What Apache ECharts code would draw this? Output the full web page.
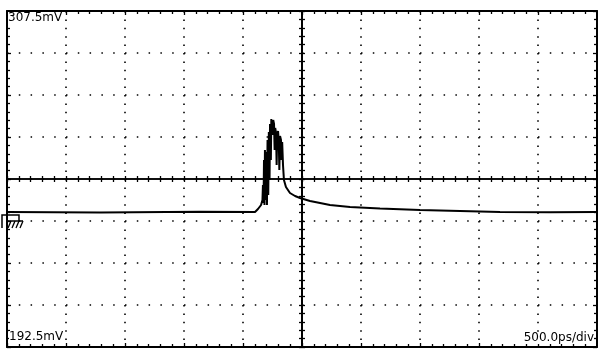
<!DOCTYPE html>
<html><head><meta charset="utf-8">
<script src="https://cdn.jsdelivr.net/npm/echarts@6/dist/echarts.min.js"></script>
<style>html,body{margin:0;padding:0;background:#fff}#c{width:598px;height:349px}</style>
</head><body><div id="c"></div>
<script>
// Waveform samples: time relative to screen centre (ps), voltage (mV)
const timePs = [-2500,-1712,-864,-398,-373,-347,-335,-331,-326,-322,-318,-314,-308,-303,-297,-292,-286,-281,-275,-271,-264,-260,-254,-249,-244,-237,-232,-227,-220,-215,-210,-203,-197,-192,-186,-178,-173,-168,-161,-153,-136,-119,-102,-59,-17,68,153,237,407,661,1000,1339,1678,2102,2500];
const voltMv = [238.71,238.53,238.77,238.71,239.73,241.10,242.81,247.95,241.79,256.50,241.10,259.93,242.81,259.24,241.10,263.35,244.52,266.09,249.66,268.82,256.50,270.54,271.22,265.06,270.19,268.82,259.93,267.46,265.74,254.79,265.40,266.43,263.35,253.08,264.72,263.35,256.50,262.66,254.79,249.66,247.26,246.24,245.21,244.18,243.50,242.47,241.79,241.10,240.42,239.90,239.39,239.05,238.71,238.60,238.71];
// Screen scale
const topLabel = '307.5mV';
const bottomLabel = '192.5mV';
const scaleLabel = '500.0ps/div';
const centerMv = 250;
const mvPerDiv = 14.375;
const psPerDiv = 500;
const divsX = 10, divsY = 8;

const chart = echarts.init(document.getElementById('c'));
const xMin = -psPerDiv*divsX/2, xMax = psPerDiv*divsX/2;
const yMin = -mvPerDiv*divsY/2, yMax = mvPerDiv*divsY/2;
const black = '#000';

function xAx(pos, onZero, split) {
  return {
    type:'value', position:pos, min:xMin, max:xMax, interval:psPerDiv,
    axisLine:{show:true, onZero:onZero, onZeroAxisIndex:0, lineStyle:{color:black, width:onZero?1.5:2}},
    axisTick:{show:true, inside:true, length:onZero?3:4, lineStyle:{color:black, width:1.3}},
    minorTick:{show:true, splitNumber:5, length:3, lineStyle:{color:black, width:1.3}},
    axisLabel:{show:false},
    splitLine:{show:split, lineStyle:{color:black, width:1.6, type:[1.5,6.9]}}
  };
}
function yAx(pos, onZero, split) {
  return {
    type:'value', position:pos, min:yMin, max:yMax, interval:mvPerDiv,
    axisLine:{show:true, onZero:onZero, onZeroAxisIndex:0, lineStyle:{color:black, width:2}},
    axisTick:{show:true, inside:true, length:onZero?3:4, lineStyle:{color:black, width:1.3}},
    minorTick:{show:true, splitNumber:5, length:3, lineStyle:{color:black, width:1.3}},
    axisLabel:{show:false},
    splitLine:{show:split, lineStyle:{color:black, width:1.6, type:[1.5,10.3]}}
  };
}

const data = timePs.map((t,i)=>[t, voltMv[i]-centerMv]);

chart.setOption({
  animation:false,
  backgroundColor:'#fff',
  grid:{left:7, right:1, top:11, bottom:2},
  xAxis:[xAx('bottom',false,true), xAx('top',false,false), xAx('bottom',true,false), xAx('top',true,false)],
  yAxis:[yAx('left',false,true), yAx('right',false,false), yAx('left',true,false), yAx('right',true,false)],
  series:[{
    type:'line', xAxisIndex:0, yAxisIndex:0, data:data, showSymbol:false,
    lineStyle:{color:black, width:2}, z:5
  }],
  graphic:[
    {type:'text', left:8, top:12, style:{text:topLabel, font:'12px "DejaVu Sans", sans-serif', fill:black, backgroundColor:'#fff'}, z:10},
    {type:'text', left:9, top:331, style:{text:bottomLabel, font:'12px "DejaVu Sans", sans-serif', fill:black, backgroundColor:'#fff'}, z:10},
    {type:'text', right:4, top:332, style:{text:scaleLabel, font:'12px "DejaVu Sans", sans-serif', fill:black, backgroundColor:'#fff'}, z:10},
    {type:'polyline', shape:{points:[[2,228],[2,215],[19,215],[19,221]]}, style:{stroke:black, lineWidth:1.5, fill:null}, z:10},
    {type:'polyline', shape:{points:[[7,221],[23,221]]}, style:{stroke:black, lineWidth:1.5, fill:null}, z:10},
    {type:'line', shape:{x1:11,y1:221,x2:8,y2:228}, style:{stroke:black, lineWidth:1.3}, z:10},
    {type:'line', shape:{x1:15,y1:221,x2:12,y2:228}, style:{stroke:black, lineWidth:1.3}, z:10},
    {type:'line', shape:{x1:19,y1:221,x2:16,y2:228}, style:{stroke:black, lineWidth:1.3}, z:10},
    {type:'line', shape:{x1:23,y1:221,x2:20,y2:228}, style:{stroke:black, lineWidth:1.3}, z:10}
  ]
});
</script></body></html>
